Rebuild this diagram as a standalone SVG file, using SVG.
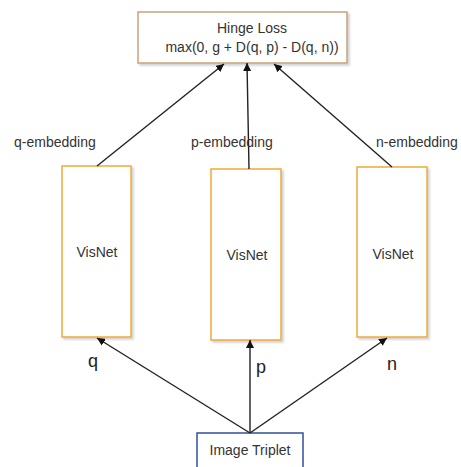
<svg xmlns="http://www.w3.org/2000/svg" width="461" height="467" viewBox="0 0 461 467">
  <style>
    .lbl { font-family: "Liberation Sans", Arial, sans-serif; font-size: 14px; fill: #333; }
    .big { font-family: "Liberation Sans", Arial, sans-serif; font-size: 18px; fill: #222; }
    .net { fill: #fff; stroke: #f0a83a; stroke-width: 1.5; }
    .edge { stroke: #222; stroke-width: 1.4; fill: none; marker-end: url(#head); }
  </style>
  <defs>
    <marker id="head" viewBox="0 0 10 10" refX="10" refY="5" markerWidth="8" markerHeight="8" markerUnits="userSpaceOnUse" orient="auto">
      <path d="M0,0 L10,5 L0,10 z" fill="#111"/>
    </marker>
    <filter id="shadow" x="-10%" y="-10%" width="130%" height="130%">
      <feDropShadow dx="2" dy="2" stdDeviation="1.2" flood-color="#000" flood-opacity="0.18"/>
    </filter>
  </defs>
  <rect width="461" height="467" fill="#fff"/>

  <g id="hinge-loss">
    <rect x="138" y="12" width="209" height="51" fill="#fff" stroke="#c9a27a" stroke-width="1.5" filter="url(#shadow)"/>
    <text class="lbl" x="252" y="33" text-anchor="middle">Hinge Loss</text>
    <text class="lbl" x="252" y="52" text-anchor="middle">max(0, g + D(q, p) - D(q, n))</text>
  </g>

  <g id="visnet-q">
    <rect class="net" x="62" y="166" width="69" height="171" filter="url(#shadow)"/>
    <text class="lbl" x="97" y="257" text-anchor="middle">VisNet</text>
  </g>
  <g id="visnet-p">
    <rect class="net" x="211" y="169" width="70" height="171" filter="url(#shadow)"/>
    <text class="lbl" x="247" y="260" text-anchor="middle">VisNet</text>
  </g>
  <g id="visnet-n">
    <rect class="net" x="357" y="167" width="70" height="170" filter="url(#shadow)"/>
    <text class="lbl" x="393" y="259" text-anchor="middle">VisNet</text>
  </g>

  <g id="image-triplet">
    <rect x="197" y="433" width="106" height="40" fill="#fff" stroke="#2f4f9f" stroke-width="1.5"/>
    <text class="lbl" x="250" y="455" text-anchor="middle">Image Triplet</text>
  </g>

  <g id="connectors">
    <line class="edge" x1="97" y1="166" x2="224" y2="64"/>
    <line class="edge" x1="249" y1="169" x2="247" y2="63"/>
    <line class="edge" x1="392" y1="167" x2="274" y2="64"/>
    <line class="edge" x1="250" y1="433" x2="97" y2="338"/>
    <line class="edge" x1="250" y1="433" x2="250" y2="340"/>
    <line class="edge" x1="250" y1="433" x2="387" y2="338"/>
  </g>

  <g id="labels">
    <text class="lbl" x="14" y="147">q-embedding</text>
    <text class="lbl" x="191" y="147">p-embedding</text>
    <text class="lbl" x="376" y="147">n-embedding</text>
    <text class="big" x="93" y="367" text-anchor="middle">q</text>
    <text class="big" x="261" y="373" text-anchor="middle">p</text>
    <text class="big" x="392" y="370" text-anchor="middle">n</text>
  </g>
</svg>
